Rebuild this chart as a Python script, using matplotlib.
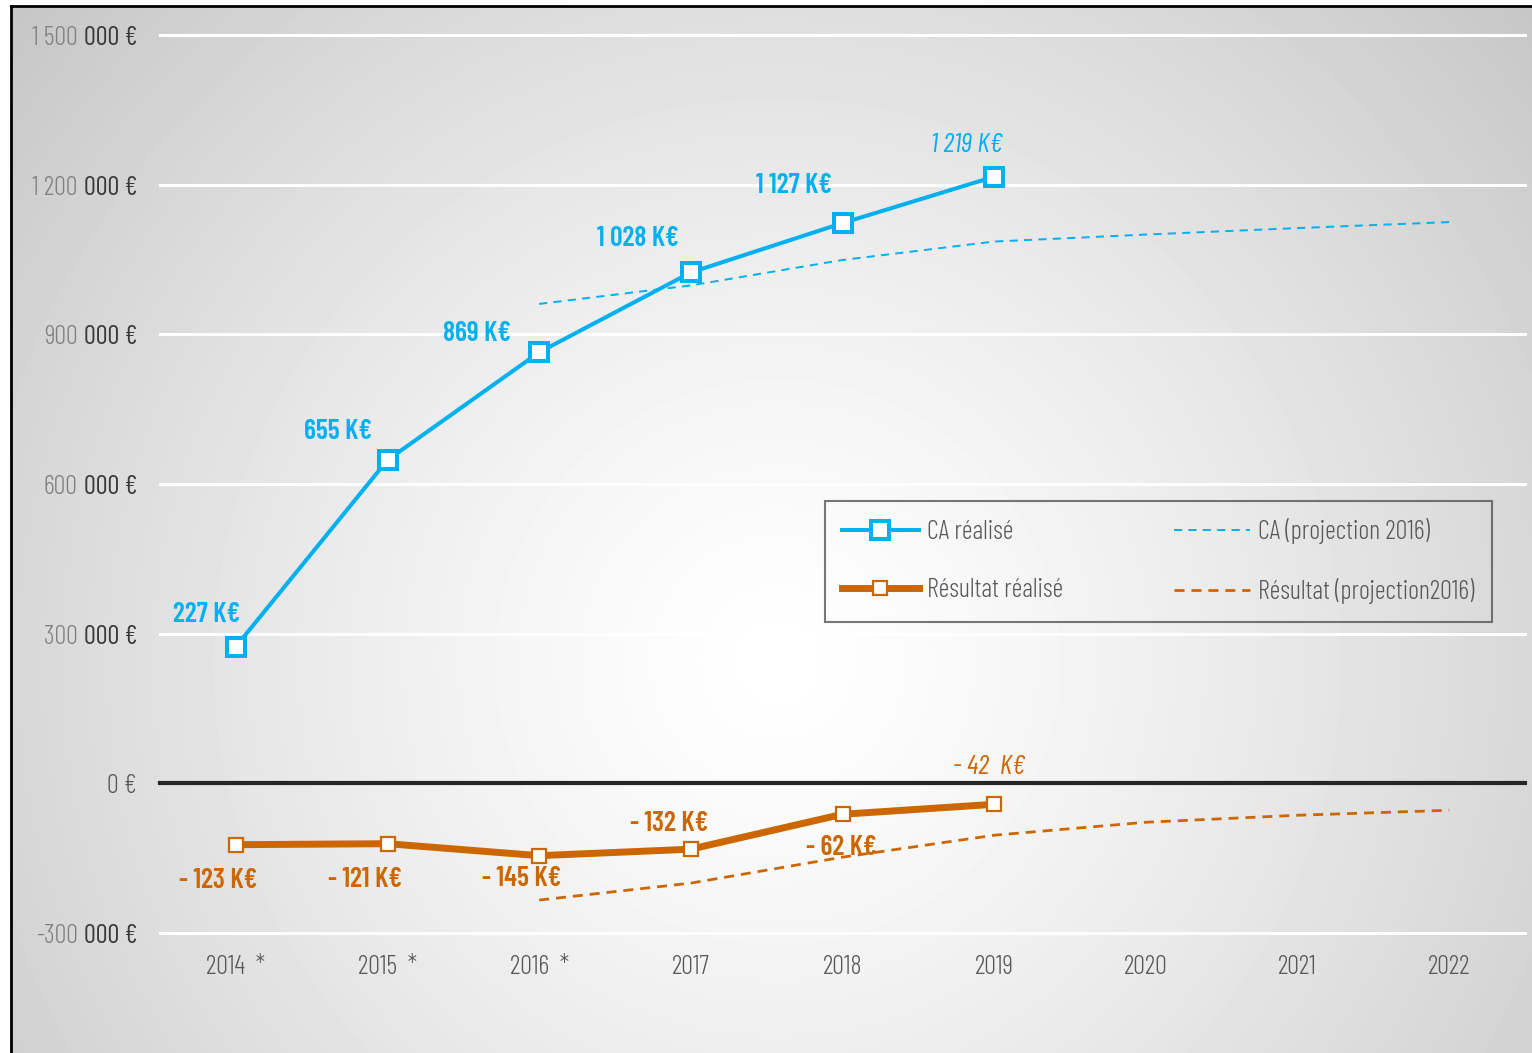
import numpy as np
import matplotlib
matplotlib.use("Agg")
import matplotlib.pyplot as plt

plt.rcParams['font.family'] = ['Barlow Condensed', 'DejaVu Sans']

# data
years = ["2014  *", "2015  *", "2016  *", "2017", "2018", "2019", "2020", "2021", "2022"]
ca_real = [274000, 648000, 864000, 1024000, 1123000, 1216000]
ca_labels = ["227 K€", "655 K€", "869 K€", "1 028 K€", "1 127 K€", "1 219 K€"]
res_real = [-123000, -121000, -145000, -132000, -62000, -42000]
res_labels = ["- 123 K€", "- 121 K€", "- 145 K€", "- 132 K€", "- 62 K€", "- 42  K€"]
proj_years = [2, 3, 4, 5, 6, 7, 8]
ca_proj = [961000, 998000, 1049000, 1086000, 1100000, 1113000, 1125000]
res_proj = [-234000, -200000, -148000, -104000, -78000, -64000, -54000]
yticks = [-300000, 0, 300000, 600000, 900000, 1200000, 1500000]

blue = "#00B0F0"
orange = "#CC6600"

W, H = 1532, 1053
fig = plt.figure(figsize=(W / 100, H / 100), dpi=100)

# background: radial grey gradient inside a black frame
bg = fig.add_axes([0, 0, 1, 1], zorder=-5)
bg.set_xlim(0, W)
bg.set_ylim(H, 0)
bg.axis("off")
gx, gy = np.meshgrid(np.arange(0, W, 4), np.arange(0, H, 4))
d = np.sqrt((gx - 770) ** 2 + (gy - 660) ** 2)
v = 1 - 0.22 * (d / 1000) ** 1.3
bg.imshow(v, cmap="gray", vmin=0, vmax=1, extent=(11, W, H, 6), aspect="auto", interpolation="bilinear")
bg.plot([11, 11], [6, H], color="black", lw=2)
bg.plot([11, W], [6, 6], color="black", lw=2)

ax = fig.add_axes([160 / W, 1 - 933 / H, (1525 - 160) / W, (933 - 35) / H])
ax.patch.set_alpha(0)
for s in ax.spines.values():
    s.set_visible(False)
ax.set_xlim(-0.5, 8.5)
ax.set_ylim(-300000, 1500000)

for t in yticks:
    if t == 0:
        ax.axhline(0, color="#262626", lw=3, zorder=1, clip_on=False)
    else:
        ax.axhline(t, color="white", lw=2.2, zorder=1, clip_on=False)

x_real = np.arange(len(ca_real))
ax.plot(proj_years, ca_proj, color=blue, lw=1.4, dashes=(4.2, 3.2), zorder=2, label="CA (projection 2016)")
ax.plot(proj_years, res_proj, color=orange, lw=2, dashes=(3.6, 2.5), zorder=2, label="Résultat (projection2016)")
ax.plot(x_real, ca_real, color=blue, lw=2.9, marker="s", ms=12.5, mew=2.9, mfc="white", mec=blue,
        zorder=4, label="CA réalisé")
ax.plot(x_real, res_real, color=orange, lw=5, marker="s", ms=10.5, mew=1.6, mfc="white", mec=orange,
        zorder=3, label="Résultat réalisé")

ca_off = [(-29, 32), (-49, 29), (-62, 19), (-53, 34), (-48, 38), (-27, 32)]
res_off = [(-18, -36), (-22, -36), (-18, -23), (-22, 26), (-1, -33), (-5, 37)]
for i in range(len(ca_real)):
    last = i == len(ca_real) - 1
    ax.annotate(ca_labels[i], (x_real[i], ca_real[i]), xytext=ca_off[i], textcoords="offset pixels",
                ha="center", va="center", color=blue, fontsize=20,
                fontweight=400 if last else 600, fontstyle="italic" if last else "normal", zorder=6)
    ax.annotate(res_labels[i], (x_real[i], res_real[i]), xytext=res_off[i], textcoords="offset pixels",
                ha="center", va="center", color=orange, fontsize=20,
                fontweight=400 if last else 600, fontstyle="italic" if last else "normal", zorder=6)

ax.set_xticks(range(len(years)))
ax.set_xticklabels(years, fontsize=19, color="#595959", fontweight=300)
ax.tick_params(axis="x", length=0, pad=16)
ax.set_yticks(yticks)
ax.set_yticklabels([])
ax.tick_params(axis="y", length=0)

# two-tone y tick labels
for t in yticks:
    if t == 0:
        ax.annotate("0 €", (0, t), xycoords=("axes fraction", "data"), xytext=(-23, -3),
                    textcoords="offset pixels", ha="right", va="center", fontsize=19,
                    color="#595959", fontweight=300)
        continue
    thousands = int(t / 1000)
    prefix = f"{abs(thousands):,}".replace(",", " ")
    if thousands < 0:
        prefix = "-" + prefix
    suf = ax.annotate("000 €", (0, t), xycoords=("axes fraction", "data"), xytext=(-23, -3),
                      textcoords="offset pixels", ha="right", va="center", fontsize=19,
                      color="#3a3a3a", fontweight=400)
    ax.annotate(prefix, (0, 0.5), xycoords=suf, xytext=(-6, 0), textcoords="offset pixels",
                ha="right", va="center", fontsize=19, color="#808080", fontweight=300)

handles, labels = ax.get_legend_handles_labels()
order = [2, 3, 0, 1]
leg = ax.legend([handles[i] for i in order], [labels[i] for i in order], ncol=2,
                loc="upper left", bbox_to_anchor=(825 / W, 1 - 501 / H), bbox_transform=fig.transFigure,
                prop={"size": 19, "weight": 300}, frameon=True, fancybox=False,
                handlelength=2.9, handletextpad=0.3, columnspacing=4.2, labelspacing=1.3,
                borderpad=0.65, borderaxespad=0)
leg.get_frame().set_edgecolor("#555555")
leg.get_frame().set_linewidth(1.5)
leg.get_frame().set_facecolor("none")
for txt in leg.get_texts():
    txt.set_color("#595959")

fig.savefig("out.png", dpi=100)
